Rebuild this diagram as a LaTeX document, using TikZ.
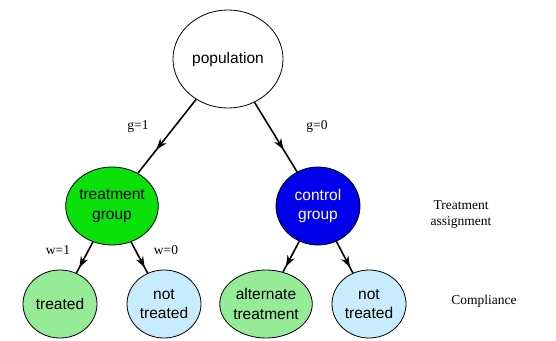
\documentclass[tikz,border=0pt]{standalone}
\usepackage{fontspec}
\setmainfont{Liberation Serif}
\setsansfont{Liberation Sans}
\usetikzlibrary{shapes.geometric,arrows.meta,decorations.markings}
\definecolor{tgreen}{RGB}{10,225,10}
\definecolor{cblue}{RGB}{0,0,235}
\definecolor{lgreen}{RGB}{150,235,150}
\definecolor{lblue}{RGB}{200,236,252}
\tikzset{
  grp/.style={ellipse,draw=black,line width=0.8pt,inner sep=0pt,align=center,font=\sffamily\fontsize{15.5}{19.5}\selectfont},
  big/.style={grp,minimum width=110pt,minimum height=98pt},
  mid/.style={grp,minimum width=84pt,minimum height=78pt},
  small/.style={grp,minimum width=74pt,minimum height=68pt},
  lab/.style={font=\fontsize{13.5}{14}\selectfont},
  side/.style={font=\fontsize{13.5}{16}\selectfont,align=center},
  conn/.style={line width=1.6pt,decoration={markings,mark=at position #1 with {\arrow{Stealth[length=11pt,width=8pt,inset=3.5pt]}}},postaction={decorate}},
  conn/.default=0.68
}
\begin{document}
\begin{tikzpicture}[x=1pt,y=-1pt]
\useasboundingbox (0,0) rectangle (556,340);
\node[big,fill=white] (pop) at (228,59) {population};
\node[mid,fill=tgreen] (tg) at (112,206) {treatment\\group};
\node[mid,fill=cblue,text=white] (cg) at (318,206) {control\\group};
\node[small,fill=lgreen] (tr) at (60,304) {treated};
\node[small,fill=lblue] (nt1) at (164,304) {not\\treated};
\node[small,fill=lgreen] (alt) at (266,304) {alternate\\treatment};
\node[small,fill=lblue] (nt2) at (369,304) {not\\treated};
\draw[conn] (pop) -- (tg);
\draw[conn] (pop) -- (cg);
\draw[conn=0.82] (tg) -- (tr);
\draw[conn=0.82] (tg) -- (nt1);
\draw[conn=0.82] (cg) -- (alt);
\draw[conn=0.82] (cg) -- (nt2);
\node[lab] (g1) at (138,126) {g=1};
\node[lab] (g0) at (317,126) {g=0};
\node[lab] (w1) at (58,250) {w=1};
\node[lab] (w0) at (166,250) {w=0};
\node[side] (ta) at (461,215) {Treatment\\assignment};
\node[side] (co) at (484,301) {Compliance};
\end{tikzpicture}
\end{document}
